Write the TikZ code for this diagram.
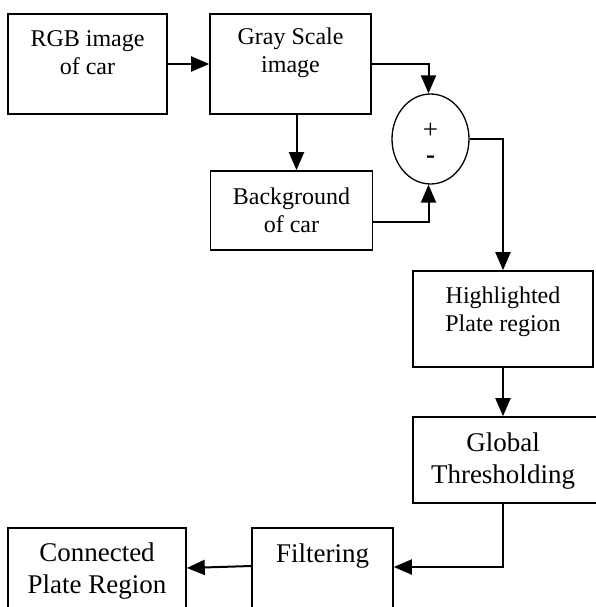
\documentclass[tikz,border=0pt]{standalone}
\usepackage{fontspec}
\setmainfont{Liberation Serif}
\usetikzlibrary{arrows.meta, shapes.geometric, positioning}

\begin{document}
\begin{tikzpicture}[
  x = 1pt, y = -1pt,
  > = {Triangle[length=18pt, width=15pt]},
  block/.style = {draw, line width=1.6pt, inner sep=0pt},
  blocktext/.style = {align=center, inner sep=0pt, font=\fontsize{24}{28}\selectfont},
  bigtext/.style = {align=center, inner sep=0pt, font=\fontsize{27}{32}\selectfont},
  flow/.style = {->, line width=2pt}
]
  \useasboundingbox (0,0) rectangle (595,607);

  % blocks
  \node[block, minimum width=159pt, minimum height=100pt] (rgb) at (87.5,64) {};
  \node[block, minimum width=161pt, minimum height=100pt] (gray) at (290.5,64) {};
  \node[block, minimum width=162pt, minimum height=79pt] (back) at (291.5,210.5) {};
  \node[draw, ellipse, line width=1.3pt, minimum width=77pt, minimum height=90pt] (sum) at (430.5,139) {};
  \node[block, minimum width=180pt, minimum height=96pt] (high) at (503,319) {};
  \node[block, minimum width=187pt, minimum height=86pt] (glob) at (506.5,460) {};
  \node[block, minimum width=141pt, minimum height=92pt] (filt) at (322.5,574) {};
  \node[block, minimum width=178pt, minimum height=92pt] (conn) at (97,574) {};

  % texts
  \node[blocktext] (rgbtext) at (87.5,53) {RGB image\\of car};
  \node[blocktext] (graytext) at (290.5,53) {Gray Scale\\image};
  \node[blocktext] (backtext) at (291.5,210) {Background\\of car};
  \node[font=\fontsize{27}{30}\selectfont, inner sep=0pt] (plus) at (430.5,131) {+};
  \node[font=\fontsize{27}{30}\selectfont, inner sep=0pt] (minus) at (430.5,160) {\textbf{-}};
  \node[blocktext] (hightext) at (503,312) {Highlighted\\Plate region};
  \node[bigtext] (globtext) at (503,461) {Global\\Thresholding};
  \node[bigtext] (filttext) at (322.5,556) {Filtering};
  \node[bigtext] (conntext) at (97,571) {Connected\\Plate Region};

  % arrows
  \draw[flow] (rgb.east) -- (gray.west);
  \draw[flow] ([xshift=6pt]gray.south) -- ([xshift=6pt]gray.south |- back.north);
  \draw[flow] (gray.east) -| ([xshift=-2pt]sum.north);
  \draw[flow] ([yshift=-11.5pt]back.east) -| ([xshift=-2pt]sum.south);
  \draw[flow] (sum.east) -| (high.north);
  \draw[flow] (high.south) -- (high.south |- glob.north);
  \draw[flow] (high.south |- glob.south) |- ([yshift=7pt]filt.east);
  \draw[flow] ([yshift=8pt]filt.west) -- ([yshift=6pt]conn.east);
\end{tikzpicture}
\end{document}
